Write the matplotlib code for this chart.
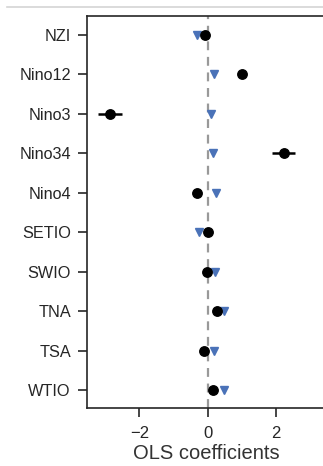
import matplotlib.pyplot as plt
from matplotlib.lines import Line2D
import numpy as np

plt.rcParams['font.family'] = ['Liberation Sans', 'DejaVu Sans']

# Data
indices = ['NZI', 'Nino12', 'Nino3', 'Nino34', 'Nino4',
           'SETIO', 'SWIO', 'TNA', 'TSA', 'WTIO']
coef_black = [-0.09, 0.99, -2.86, 2.22, -0.32, 0.01, -0.03, 0.26, -0.12, 0.14]
err_black = [0.05, 0.05, 0.36, 0.34, 0.05, 0.05, 0.05, 0.05, 0.05, 0.05]
coef_blue = [-0.32, 0.18, 0.08, 0.15, 0.23, -0.27, 0.20, 0.47, 0.18, 0.47]

ypos = np.arange(len(indices))

fig = plt.figure(figsize=(3.23, 4.66), dpi=100)
ax = fig.add_axes([0.269, 0.125, 0.738, 0.841])

# notebook cell border line at the top
fig.add_artist(Line2D([0.022, 1.0], [0.985, 0.985], color='#d4d4d4', lw=1.2,
                      transform=fig.transFigure))

ax.axvline(0, color='#999999', ls='--', lw=1.6, dashes=(4, 3), zorder=1)

ax.errorbar(coef_black, ypos, xerr=err_black, fmt='o', color='black',
            ms=6.8, elinewidth=1.8, capsize=0, zorder=3)
ax.plot(coef_blue, ypos, 'v', color='#4a72b8', ms=6.3, ls='none', zorder=2)

ax.set_xlim(-3.53, 3.43)
ax.set_ylim(9.45, -0.48)
ax.set_yticks(ypos)
ax.set_yticklabels(indices)
ax.set_xticks([-2, 0, 2])
ax.set_xticklabels(['\u22122', '0', '2'])
ax.set_xlabel('OLS coefficients', fontsize=14.5, color='#333333', labelpad=2)

ax.tick_params(axis='y', labelsize=11.7, length=6.5, width=1.2,
               colors='#262626', pad=5)
ax.tick_params(axis='x', labelsize=12, length=6.5, width=1.2,
               colors='#262626', pad=7)
for s in ax.spines.values():
    s.set_linewidth(1.2)
    s.set_color('#262626')

fig.savefig('out.png', dpi=100)
